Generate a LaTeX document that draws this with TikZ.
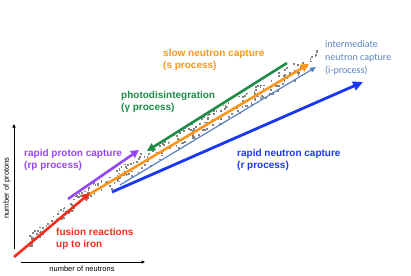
\documentclass[tikz,border=0pt]{standalone}
\usepackage{fontspec}
\setmainfont{Liberation Sans}
\newfontfamily\carlfont{Carlito}
\usetikzlibrary{arrows.meta}
\definecolor{cred}{RGB}{245,45,30}
\definecolor{corange}{RGB}{250,150,30}
\definecolor{cgreen}{RGB}{30,140,70}
\definecolor{cpurple}{RGB}{150,70,250}
\definecolor{cblue}{RGB}{25,55,245}
\definecolor{csteel}{RGB}{90,130,195}
\definecolor{cdot}{RGB}{130,130,130}
\tikzset{
  proc/.style={line width=2.6pt,-{Triangle[length=8pt,width=8pt]}},
  lab/.style={anchor=west,inner sep=0pt,align=left,font=\bfseries\fontsize{10}{12}\selectfont},
  axis/.style={line width=0.8pt,-{Triangle[length=3.5pt,width=3pt]}},
  axlab/.style={inner sep=0pt,font=\fontsize{7.5}{8}\selectfont}
}
\begin{document}
\begin{tikzpicture}[x=1pt,y=-1pt]
\useasboundingbox (0,0) rectangle (411,275);
% nuclide dots
\pgfmathsetseed{11}
\foreach \i in {1,...,300}{
  \pgfmathsetmacro\xx{30+290*rnd}
  \pgfmathsetmacro\ra{rnd}
  \pgfmathsetmacro\yy{\xx<90 ? 193+(90-\xx)*0.84+(\ra*12-8) : 193-(\xx-90)*0.59+(\ra*18-9)}
  \fill[cdot] (\xx-0.9,\yy-0.9) rectangle ++(1.8,1.8);
}
% axes
\coordinate (yb) at (14,249);
\coordinate (yt) at (14,124);
\coordinate (xl) at (21,262);
\coordinate (xr) at (145,262);
\draw[axis] (yb) -- (yt);
\draw[axis] (xl) -- (xr);
\node[axlab] (xlab) at (82,268.5) {number of neutrons};
\node[axlab,rotate=90] (ylab) at (7,188) {number of protons};
% process arrows
\coordinate (r0) at (14,257);
\coordinate (r1) at (90,193);
\coordinate (o0) at (88,195);
\coordinate (o1) at (309,64);
\coordinate (p0) at (68,199);
\coordinate (p1) at (139,150);
\coordinate (g0) at (287,63);
\coordinate (g1) at (147,151);
\coordinate (i0) at (120,185);
\coordinate (i1) at (316,67);
\coordinate (b0) at (112,192);
\coordinate (b1) at (363,82);
\draw[proc,corange] (o0) -- (o1);
\draw[proc,cred] (r0) -- (r1);
\draw[proc,cpurple] (p0) -- (p1);
\draw[proc,cgreen] (g0) -- (g1);
\draw[line width=1.2pt,csteel,-{Triangle[length=6pt,width=5pt]}] (i0) -- (i1);
\draw[line width=2.8pt,cblue,-{Triangle[length=10pt,width=9pt]}] (b0) -- (b1);
% labels
\node[lab,text=corange] (sl) at (163,60) {slow neutron capture\\(s process)};
\node[lab,text=cgreen] (gl) at (121,101.5) {photodisintegration\\(γ process)};
\node[lab,text=cpurple] (pl) at (24,160) {rapid proton capture\\(rp process)};
\node[lab,text=cred] (fl) at (56,238.5) {fusion reactions\\up to iron};
\node[lab,text=cblue] (bl) at (237,160) {rapid neutron capture\\(r process)};
\node[anchor=west,inner sep=0pt,align=left,text=csteel,font=\carlfont\fontsize{10}{13}\selectfont] (il) at (325,58) {intermediate\\neutron capture\\(i-process)};
\end{tikzpicture}
\end{document}
